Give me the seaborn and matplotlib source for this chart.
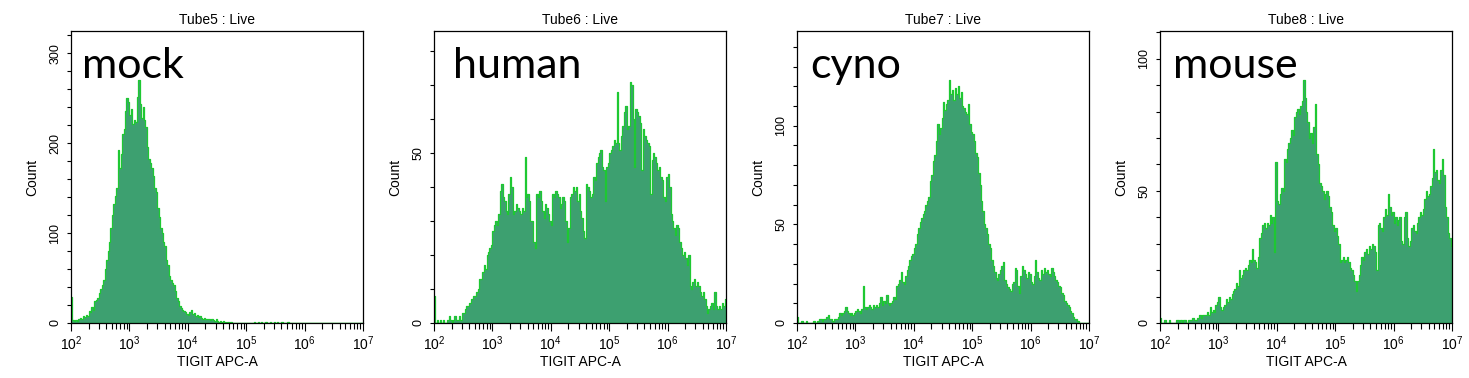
import numpy as np
import matplotlib
matplotlib.use("Agg")
import matplotlib.pyplot as plt
from matplotlib.ticker import FixedLocator, MultipleLocator
import seaborn as sns

# flow histograms, TIGIT APC-A, 200 log bins from 10^2 to 10^7
# each row below = half a decade (20 bins)
tubes = ["Tube5 : Live", "Tube6 : Live", "Tube7 : Live", "Tube8 : Live"]
samples = ["mock", "human", "cyno", "mouse"]
bin_lo, bin_hi, n_bins = 2, 7, 200

mock = [29, 3, 2, 3, 2, 4, 6, 5, 8, 7, 9, 8, 13, 12, 18, 15, 24, 26, 28, 33,
        38, 42, 48, 60, 70, 80, 90, 106, 120, 132, 141, 150, 192, 172, 188, 210, 216, 236, 250, 246,
        232, 238, 222, 226, 224, 252, 270, 244, 228, 240, 226, 218, 196, 182, 178, 172, 164, 150, 146, 128,
        118, 106, 100, 90, 86, 70, 64, 52, 48, 45, 42, 36, 28, 25, 19, 17, 14, 13, 12, 10,
        9, 12, 14, 10, 11, 8, 9, 7, 8, 6, 5, 6, 5, 4, 5, 3, 4, 3, 2, 4,
        2, 1, 2, 1, 2, 1, 0, 1, 0, 1, 0, 0, 0, 0, 0, 0, 0, 0, 0, 0,
        0, 0, 0, 0, 0, 1, 0, 0, 1, 0, 1, 0, 0, 1, 0, 0, 1, 0, 0, 1,
        0, 1, 0, 0, 1, 0, 0, 0, 1, 0, 0, 0, 0, 0, 0, 0, 0, 0, 0, 0,
        0, 0, 0, 0, 0, 0, 0, 0, 0, 0, 0, 0, 0, 0, 0, 0, 0, 0, 0, 0,
        0, 0, 0, 0, 0, 0, 0, 0, 0, 0, 0, 0, 0, 0, 0, 0, 0, 0, 0, 0]
human = [8, 0, 1, 0, 1, 0, 1, 0, 0, 1, 2, 1, 0, 1, 2, 1, 1, 2, 1, 3,
         3, 4, 5, 5, 6, 7, 7, 8, 8, 9, 10, 13, 13, 15, 17, 16, 20, 21, 22, 23,
         27, 29, 30, 29, 32, 39, 41, 37, 36, 33, 32, 38, 43, 40, 32, 33, 35, 34, 33, 32,
         34, 33, 49, 37, 38, 36, 30, 30, 24, 22, 38, 37, 39, 36, 33, 31, 35, 34, 32, 30,
         29, 38, 37, 39, 38, 37, 34, 35, 37, 36, 30, 24, 28, 37, 38, 40, 39, 40, 36, 38,
         33, 31, 27, 25, 41, 40, 39, 37, 38, 43, 42, 47, 49, 50, 51, 46, 45, 36, 46, 47,
         50, 51, 52, 54, 53, 68, 53, 51, 55, 58, 62, 64, 57, 58, 71, 70, 60, 46, 63, 62,
         61, 59, 45, 57, 55, 54, 53, 52, 38, 48, 50, 49, 47, 45, 46, 43, 42, 37, 36, 43,
         44, 40, 32, 30, 28, 26, 29, 28, 24, 22, 20, 21, 19, 17, 20, 11, 10, 12, 13, 11,
         12, 11, 9, 8, 9, 7, 5, 3, 4, 5, 6, 4, 9, 5, 4, 5, 4, 6, 5, 7]
cyno = [3, 0, 0, 1, 0, 0, 1, 0, 0, 0, 0, 1, 0, 0, 1, 2, 2, 1, 2, 2,
        3, 4, 2, 2, 1, 2, 2, 2, 3, 5, 4, 5, 6, 8, 6, 5, 4, 5, 4, 5,
        6, 7, 6, 5, 7, 19, 8, 7, 8, 9, 8, 7, 9, 8, 9, 8, 10, 13, 9, 11,
        10, 14, 10, 9, 10, 11, 13, 12, 19, 20, 22, 26, 21, 20, 24, 27, 29, 32, 34, 35,
        38, 40, 45, 48, 51, 53, 55, 57, 60, 62, 64, 72, 75, 82, 85, 92, 101, 96, 99, 104,
        112, 108, 111, 113, 123, 116, 118, 113, 119, 116, 120, 114, 117, 110, 109, 107, 106, 111, 101, 97,
        96, 92, 86, 84, 76, 70, 62, 57, 50, 48, 45, 40, 38, 32, 29, 26, 23, 22, 25, 27,
        29, 31, 22, 20, 18, 17, 16, 20, 21, 28, 27, 19, 15, 24, 29, 27, 25, 23, 26, 25,
        21, 20, 24, 32, 26, 23, 22, 27, 25, 28, 26, 27, 25, 24, 28, 26, 24, 22, 21, 19,
        18, 15, 14, 11, 10, 9, 8, 6, 5, 3, 2, 2, 1, 0, 0, 0, 0, 0, 0, 0]
mouse = [2, 0, 0, 1, 0, 0, 1, 0, 0, 0, 0, 1, 1, 0, 1, 0, 1, 1, 0, 1,
         1, 1, 2, 1, 1, 2, 2, 3, 2, 3, 3, 3, 4, 3, 6, 4, 5, 4, 7, 8,
         10, 6, 5, 6, 7, 9, 8, 10, 9, 11, 12, 13, 15, 14, 20, 17, 18, 20, 21, 20,
         22, 24, 23, 28, 24, 23, 21, 25, 32, 34, 37, 38, 36, 38, 37, 41, 38, 40, 27, 61,
         46, 45, 49, 51, 50, 62, 61, 66, 68, 70, 73, 71, 78, 80, 81, 79, 82, 84, 92, 85,
         80, 76, 70, 72, 68, 74, 83, 64, 60, 53, 52, 50, 47, 49, 50, 48, 44, 42, 37, 35,
         36, 33, 30, 23, 24, 25, 23, 24, 25, 23, 21, 20, 18, 16, 12, 16, 18, 22, 25, 24,
         27, 28, 26, 29, 28, 30, 29, 27, 20, 37, 38, 36, 35, 40, 43, 41, 49, 44, 41, 42,
         38, 40, 37, 39, 40, 31, 30, 40, 42, 32, 29, 31, 36, 37, 35, 34, 38, 40, 42, 41,
         43, 47, 50, 48, 49, 52, 55, 66, 57, 58, 54, 53, 58, 62, 56, 44, 40, 34, 32, 29]
counts = [mock, human, cyno, mouse]

y_max = [325, 86, 148, 110.5]
y_major = [100, 50, 50, 50]
y_minor = [20, 10, 10, 10]
label_dx = [11, 19, 13, 13]  # px from the left spine

fill_col = "#3da070"
edge_col = "#1ec832"

sns.set_style("ticks")
plt.rcParams["font.family"] = ["Liberation Sans", "DejaVu Sans"]
plt.rcParams["mathtext.default"] = "regular"
for key in ["text.color", "axes.labelcolor", "xtick.color", "ytick.color"]:
    plt.rcParams[key] = "black"

fig = plt.figure(figsize=(14.69, 3.78), dpi=100)
lefts = [71, 434, 797, 1160]

half = (bin_hi - bin_lo) / n_bins / 2
centers = np.linspace(bin_lo + half, bin_hi - half, n_bins)
decade_minor = [np.log10(k) + d for d in range(bin_lo, bin_hi) for k in range(2, 10)]

for i in range(4):
    ax = fig.add_axes([lefts[i] / 1469, 55 / 378, 292 / 1469, 292 / 378])
    sns.histplot(x=centers, weights=counts[i], bins=n_bins, binrange=(bin_lo, bin_hi),
                 element="step", fill=True, facecolor=fill_col, edgecolor=edge_col,
                 linewidth=0.9, ax=ax)
    ax.set_xlim(bin_lo, bin_hi)
    ax.set_ylim(0, y_max[i])

    ax.xaxis.set_major_locator(FixedLocator(range(bin_lo, bin_hi + 1)))
    ax.set_xticklabels([f"$10^{{{d}}}$" for d in range(bin_lo, bin_hi + 1)], fontsize=10)
    ax.xaxis.set_minor_locator(FixedLocator(decade_minor))
    ax.yaxis.set_major_locator(MultipleLocator(y_major[i]))
    ax.yaxis.set_minor_locator(MultipleLocator(y_minor[i]))
    ax.tick_params(axis="x", which="major", length=6, width=0.8, pad=2)
    ax.tick_params(axis="x", which="minor", length=4, width=0.8)
    ax.tick_params(axis="y", which="both", length=3, width=0.8, labelsize=9,
                   labelrotation=90, pad=4)
    for t in ax.get_yticklabels():
        t.set_va("center")

    for s in ax.spines.values():
        s.set_visible(True)
        s.set_linewidth(0.9)
        s.set_color("black")

    ax.set_xlabel("TIGIT APC-A", fontsize=10, labelpad=2)
    ax.set_ylabel("Count", fontsize=10, labelpad=7)
    ax.set_title(tubes[i], fontsize=10, pad=5)
    ax.text(label_dx[i] / 292, 0.839, samples[i], transform=ax.transAxes,
            fontsize=31, family=["Lato", "DejaVu Sans"], color="black",
            va="baseline", ha="left")

fig.savefig("out.png", dpi=100)
